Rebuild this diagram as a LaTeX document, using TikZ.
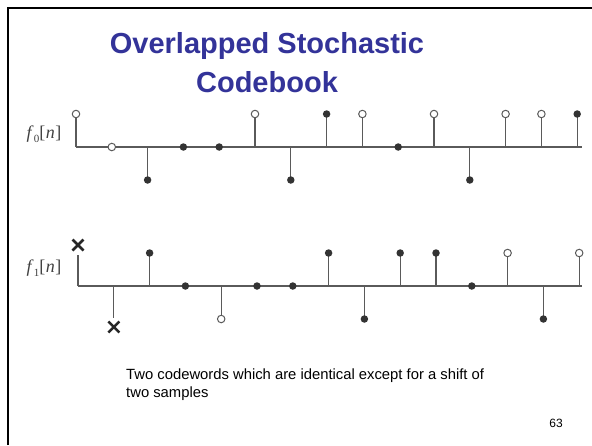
\documentclass[tikz,border=0pt]{standalone}
\usepackage{fontspec}
\setmainfont{Liberation Sans}
\newfontfamily\labelfont{Liberation Serif}
\usepackage{tikz}
\usetikzlibrary{shapes.misc}
\definecolor{titleblue}{RGB}{51,51,153}
\definecolor{stemgray}{RGB}{90,90,90}
\tikzstyle{filled}=[circle,fill=black!80,inner sep=0pt,minimum size=7.5pt]
\tikzstyle{hollow}=[circle,draw=stemgray,fill=white,line width=1pt,inner sep=0pt,minimum size=7.5pt]
\tikzstyle{clipped}=[cross out,draw=black!85,line width=2.5pt,inner sep=0pt,minimum size=8.5pt]
\tikzstyle{stem}=[stemgray,line width=1.2pt]
\tikzstyle{title}=[anchor=base,inner sep=0pt,text=titleblue,font=\fontsize{29}{35}\selectfont\bfseries]
\tikzstyle{caption}=[anchor=base west,inner sep=0pt,font=\fontsize{14.8}{17}\selectfont]
\tikzstyle{seqlabel}=[inner sep=0pt,text=black!75,font=\labelfont\fontsize{18}{20}\selectfont]
\newcommand{\seqname}[1]{\textit{f}\raisebox{-0.22em}{\fontsize{11}{11}\selectfont #1}[\kern0.5pt\textit{n}\kern0.5pt]}
\def\fzero{0/1/hollow,1/0/hollow,2/-1/filled,3/0/filled,4/0/filled,5/1/hollow,6/-1/filled,7/1/filled,8/1/hollow,9/0/filled,10/1/hollow,11/-1/filled,12/1/hollow,13/1/hollow,14/1/filled}
\def\fone{2/1/filled,3/0/filled,4/-1/hollow,5/0/filled,6/0/filled,7/1/filled,8/-1/filled,9/1/filled,10/1/filled,11/0/filled,12/1/hollow,13/-1/filled,14/1/hollow}

\begin{document}
\begin{tikzpicture}[x=1pt,y=-1pt]
\useasboundingbox (0,0) rectangle (592,445);
\draw [line width=2.5pt] (8,445) -- (8,8) -- (592,8);
\node (title1) [title] at (267,53) {Overlapped Stochastic};
\node (title2) [title] at (267,92) {Codebook};
\node (lab0) [seqlabel] at (44,134) {\seqname{0}};
\node (lab1) [seqlabel] at (44,268) {\seqname{1}};
\coordinate (aend) at (582,147);
\coordinate (bend) at (582,286);
\foreach \n in {0,...,14} {
  \coordinate (a\n) at ({76+35.8*\n},147);
  \coordinate (b\n) at ({78+35.8*\n},286);
}
\draw [stem] (a0) -- (aend);
\draw [stem] (b0) -- (bend);
\foreach \n/\v/\m in \fzero {
  \ifnum\v=0\else \draw [stem] (a\n) -- ++(0,{-33*\v}) coordinate (ta\n); \fi
  \node (p\n) [\m] at ({76+35.8*\n},{147-33*\v}) {};
}
\foreach \n/\v/\m in \fone {
  \ifnum\v=0\else \draw [stem] (b\n) -- ++(0,{-33*\v}) coordinate (tb\n); \fi
  \node (q\n) [\m] at ({78+35.8*\n},{286-33*\v}) {};
}
\node (q0) [clipped] at (78,245) {};
\node (q1) [clipped] at (113.8,327) {};
\draw [stem,shorten >=4pt] (b0) -- (q0);
\draw [stem,shorten >=4pt] (b1) -- (q1);
\node (note1) [caption] at (126,379) {Two codewords which are identical except for a shift of};
\node (note2) [caption] at (126,397) {two samples};
\node (page) [anchor=base east,inner sep=0pt,font=\fontsize{12}{14}\selectfont] at (563,427) {63};
\end{tikzpicture}
\end{document}
